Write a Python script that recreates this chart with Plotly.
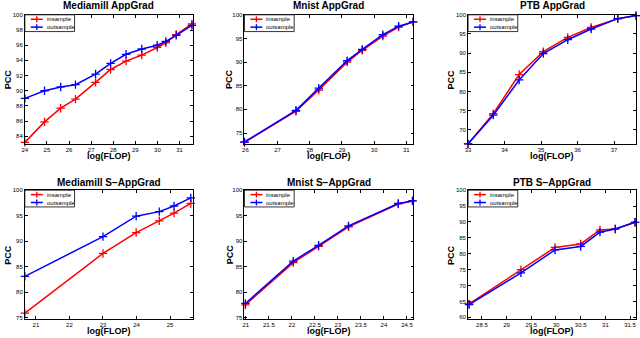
import plotly.graph_objects as go

# Mediamill AppGrad
mm_x = [24.0, 24.89, 25.62, 26.29, 27.2, 27.88, 28.58, 29.29, 29.99, 30.38, 30.85, 31.56]
mm_in = [83.2, 85.9, 87.7, 88.9, 91.1, 92.8, 93.9, 94.7, 95.7, 96.3, 97.4, 98.8]
mm_out = [89.0, 90.0, 90.5, 90.8, 92.2, 93.6, 94.8, 95.5, 96.0, 96.5, 97.3, 98.6]

# Mnist AppGrad
mn_x = [25.97, 27.57, 28.28, 29.16, 29.63, 30.27, 30.76, 31.21]
mn_in = [73.0, 79.6, 84.1, 90.0, 92.5, 95.5, 97.4, 98.5]
mn_out = [73.1, 79.8, 84.5, 90.3, 92.7, 95.8, 97.6, 98.5]

# PTB AppGrad
ptb_x = [33.0, 33.69, 34.4, 35.06, 35.73, 36.37, 37.1, 37.6]
ptb_in = [66.3, 74.2, 84.4, 90.4, 94.1, 96.7, 99.0, 99.8]
ptb_out = [66.3, 73.8, 83.0, 89.9, 93.5, 96.3, 99.0, 99.8]

# Mediamill S-AppGrad
smm_x = [20.67, 23.0, 23.99, 24.68, 25.12, 25.62]
smm_in = [75.9, 87.6, 91.7, 94.0, 95.5, 97.4]
smm_out = [83.1, 90.9, 94.9, 95.8, 96.9, 98.5]

# Mnist S-AppGrad
smn_x = [20.99, 22.03, 22.58, 23.23, 24.31, 24.62]
smn_in = [77.5, 85.8, 89.0, 92.8, 97.3, 97.9]
smn_out = [77.8, 86.1, 89.2, 93.0, 97.4, 97.9]

# PTB S-AppGrad
sptb_x = [28.24, 29.29, 29.98, 30.5, 30.89, 31.2, 31.6]
sptb_in = [64.2, 75.0, 82.0, 83.1, 87.5, 87.8, 89.9]
sptb_out = [64.0, 74.0, 81.2, 82.3, 86.8, 87.8, 89.9]

titles = ["Mediamill AppGrad", "Mnist AppGrad", "PTB AppGrad",
          "Mediamill S\u2212AppGrad", "Mnist S\u2212AppGrad", "PTB S\u2212AppGrad"]
series_names = ["insample", "outsample"]
series_colors = ["#ff0000", "#0000ff"]

panels = [
  (mm_x, mm_in, mm_out, [24, 31.6], [83, 100], list(range(24, 32)), list(range(84, 101, 2))),
  (mn_x, mn_in, mn_out, [25.97, 31.22], [72.7, 100], list(range(26, 32)), list(range(75, 101, 5))),
  (ptb_x, ptb_in, ptb_out, [33, 37.6], [66.3, 100], list(range(33, 38)), list(range(70, 101, 5))),
  (smm_x, smm_in, smm_out, [20.67, 25.68], [74.7, 100], list(range(21, 26)), list(range(75, 101, 5))),
  (smn_x, smn_in, smn_out, [20.97, 24.64], [74.7, 100], [21, 21.5, 22, 22.5, 23, 23.5, 24, 24.5], list(range(75, 101, 5))),
  (sptb_x, sptb_in, sptb_out, [28.22, 31.62], [59.4, 100], [28.5, 29, 29.5, 30, 30.5, 31, 31.5], list(range(60, 101, 5))),
]

W, H = 640, 338
col_px = [(22, 191), (243, 413), (468, 637)]
row_px = [(12, 143), (190, 321)]
ylab_px = [5, 228, 451]


def px(x, y):
  return x / W, 1 - y / H


font = "Liberation Sans, Arial, sans-serif"
fig = go.Figure()
layout = dict(width=W, height=H, margin=dict(l=0, r=0, t=0, b=0),
              paper_bgcolor="white", plot_bgcolor="white", showlegend=False, hovermode=False,
              font=dict(family=font, color="black", size=6))
annotations = []
shapes = []

for i, (x, yin, yout, xr, yr, xt, yt) in enumerate(panels):
  r, c = divmod(i, 3)
  n = "" if i == 0 else str(i + 1)
  x0, x1 = col_px[c][0] / W, col_px[c][1] / W
  y0, y1 = 1 - row_px[r][1] / H, 1 - row_px[r][0] / H
  for name, ys, col in zip(series_names, [yin, yout], series_colors):
    fig.add_trace(go.Scatter(x=x, y=ys, name=name, mode="lines+markers",
                             line=dict(color=col, width=1.5),
                             marker=dict(symbol="cross-thin", size=6, line=dict(color=col, width=1.3)),
                             xaxis="x" + n, yaxis="y" + n, cliponaxis=False))
  ax = dict(showline=True, linecolor="black", linewidth=0.8, mirror="ticks",
            ticks="inside", ticklen=3, tickcolor="black", tickwidth=0.8,
            showgrid=False, zeroline=False, tickfont=dict(size=6))
  layout["xaxis" + n] = dict(ax, domain=[x0, x1], range=xr, tickvals=xt, anchor="y" + n)
  layout["yaxis" + n] = dict(ax, domain=[y0, y1], range=yr, tickvals=yt, anchor="x" + n)

  # legend box drawn in the top-left corner of each panel
  lx, ly = col_px[c][0], row_px[r][0]
  bx0, by0 = px(lx, ly)
  bx1, by1 = px(lx + 50, ly + 17)
  shapes.append(dict(type="rect", xref="paper", yref="paper", x0=bx0, y0=by1, x1=bx1, y1=by0,
                     line=dict(color="black", width=0.8), fillcolor="white", layer="above"))
  for k, (name, col) in enumerate(zip(series_names, series_colors)):
    yy = ly + 4.5 + k * 8
    ax0, ayy = px(lx + 6, yy)
    ax1, _ = px(lx + 18, yy)
    shapes.append(dict(type="line", xref="paper", yref="paper", x0=ax0, x1=ax1, y0=ayy, y1=ayy,
                       line=dict(color=col, width=1.5), layer="above"))
    mx, my0 = px(lx + 12, yy - 3)
    _, my1 = px(lx + 12, yy + 3)
    shapes.append(dict(type="line", xref="paper", yref="paper", x0=mx, x1=mx, y0=my0, y1=my1,
                       line=dict(color=col, width=1.3), layer="above"))
    tx, ty_ = px(lx + 20, yy)
    annotations.append(dict(text=name, x=tx, y=ty_, xref="paper", yref="paper", showarrow=False,
                            font=dict(size=6), xanchor="left", yanchor="middle"))

  cx = (x0 + x1) / 2
  ty = 3 if r == 0 else 182
  annotations.append(dict(text="<b>%s</b>" % titles[i], x=cx, y=1 - ty / H, xref="paper", yref="paper",
                          showarrow=False, font=dict(size=10), xanchor="center", yanchor="middle"))
  lyb = 155 if r == 0 else 333
  annotations.append(dict(text="<b>log(FLOP)</b>", x=cx, y=1 - lyb / H, xref="paper", yref="paper",
                          showarrow=False, font=dict(size=9), xanchor="center", yanchor="middle"))
  annotations.append(dict(text="<b>PCC</b>", x=ylab_px[c] / W, y=(y0 + y1) / 2, xref="paper", yref="paper",
                          showarrow=False, font=dict(size=9), textangle=-90,
                          xanchor="center", yanchor="middle"))

layout["annotations"] = annotations
layout["shapes"] = shapes
fig.update_layout(**layout)
fig.write_html("out.html", config={"displayModeBar": False},
               post_script="document.body.style.margin='0px';")
